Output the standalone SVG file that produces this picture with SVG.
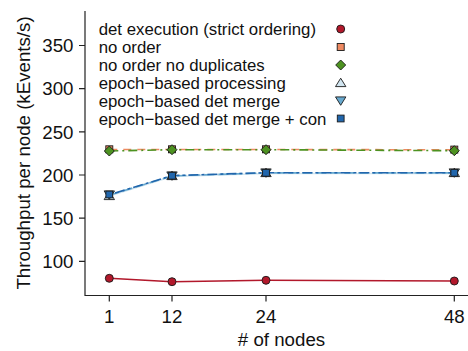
<svg xmlns="http://www.w3.org/2000/svg" xmlns:xlink="http://www.w3.org/1999/xlink" width="468" height="351" viewBox="0 0 468 351">
<style>
text{font-family:"Liberation Sans",Arial,sans-serif;fill:#111}
.ax{font-size:18.7px}
.lg{font-size:16.8px}
.axis{stroke:#222;stroke-width:1.2;fill:none}
.mk{stroke:#1a1a1a;stroke-width:0.9}
.ln{fill:none;stroke-width:1.6}
</style>
<defs>
<circle id="mc" r="4" class="mk" fill="#B2182B"/>
<rect id="ms" x="-3.5" y="-3.5" width="7" height="7" class="mk" fill="#EF8A62"/>
<polygon id="md" points="0,-5 5,0 0,5 -5,0" class="mk" fill="#4D9221"/>
<polygon id="mu" points="0,-4.3 5.2,4.1 -5.2,4.1" class="mk" fill="#D1E5F0"/>
<polygon id="mv" points="0,4.3 5.2,-4.1 -5.2,-4.1" class="mk" fill="#67A9CF"/>
<rect id="mb" x="-3.4" y="-3.4" width="6.8" height="6.8" class="mk" fill="#2166AC"/>
</defs>
<rect width="468" height="351" fill="#fff"/>
<g id="axes">
<path class="axis" d="M85,11V295.5H468"/>
<path class="axis" d="M79,261.3H85M79,218.2H85M79,175H85M79,131.8H85M79,88.7H85M79,45.5H85"/>
<path class="axis" d="M109.3,295.5V301.5M172,295.5V301.5M266,295.5V301.5M454.3,295.5V301.5"/>
<g class="ax" text-anchor="end">
<text x="73.5" y="268">100</text>
<text x="73.5" y="224.9">150</text>
<text x="73.5" y="181.7">200</text>
<text x="73.5" y="138.5">250</text>
<text x="73.5" y="95.4">300</text>
<text x="73.5" y="52.2">350</text>
</g>
<g class="ax" text-anchor="middle">
<text x="109.3" y="322.5">1</text>
<text x="172" y="322.5">12</text>
<text x="266" y="322.5">24</text>
<text x="454.3" y="322.5">48</text>
<text x="281.5" y="346"># of nodes</text>
<text transform="translate(29.5,153) rotate(-90)">Throughput per node (kEvents/s)</text>
</g>
</g>
<g id="series">
<polyline class="ln" stroke="#B2182B" stroke-width="1.8" points="109.3,278.3 172,281.7 266,280.3 454.3,281"/>
<polyline class="ln" stroke="#EF8A62" stroke-dasharray="8 6" points="109.3,149.5 172,149.5 266,149.5 454.3,149.8"/>
<polyline class="ln" stroke="#4D9221" stroke-dasharray="9 4 2 4" points="109.3,151 172,149.7 266,149.7 454.3,150.7"/>
<polyline class="ln" stroke="#D1E5F0" stroke-width="2.4" points="109.3,196 172,176.5 266,173.5 454.3,173.5"/>
<polyline class="ln" stroke="#67A9CF" stroke-dasharray="10 4" points="109.3,195.2 172,175.9 266,172.9 454.3,172.9"/>
<polyline class="ln" stroke="#2166AC" stroke-dasharray="3 3 10 3" points="109.3,194.8 172,175.6 266,172.7 454.3,172.7"/>
<g id="pts-det">
<use xlink:href="#mc" x="109.3" y="278.3"/><use xlink:href="#mc" x="172" y="281.7"/><use xlink:href="#mc" x="266" y="280.3"/><use xlink:href="#mc" x="454.3" y="281"/>
</g>
<g id="pts-noorder">
<use xlink:href="#ms" x="109.3" y="149.3"/><use xlink:href="#ms" x="172" y="149.3"/><use xlink:href="#ms" x="266" y="149.3"/><use xlink:href="#ms" x="454.3" y="149.6"/>
</g>
<g id="pts-nodup">
<use xlink:href="#md" x="109.3" y="151"/><use xlink:href="#md" x="172" y="149.7"/><use xlink:href="#md" x="266" y="149.7"/><use xlink:href="#md" x="454.3" y="150.7"/>
</g>
<g id="pts-epoch">
<use xlink:href="#mu" x="109.3" y="195.5"/><use xlink:href="#mu" x="172" y="175.5"/><use xlink:href="#mu" x="266" y="172.5"/><use xlink:href="#mu" x="454.3" y="172.5"/>
</g>
<g id="pts-merge">
<use xlink:href="#mv" x="109.3" y="195"/><use xlink:href="#mv" x="172" y="176"/><use xlink:href="#mv" x="266" y="173"/><use xlink:href="#mv" x="454.3" y="173"/>
</g>
<g id="pts-con">
<use xlink:href="#mb" x="109.3" y="194.5"/><use xlink:href="#mb" x="172" y="175.7"/><use xlink:href="#mb" x="266" y="172.8"/><use xlink:href="#mb" x="454.3" y="172.8"/>
</g>
</g>
<g id="legend" class="lg">
<text x="98.7" y="35">det execution (strict ordering)</text>
<text x="98.7" y="53">no order</text>
<text x="98.7" y="71">no order no duplicates</text>
<text x="98.7" y="89">epoch−based processing</text>
<text x="98.7" y="107">epoch−based det merge</text>
<text x="98.7" y="125">epoch−based det merge + con</text>
<use xlink:href="#mc" x="340.7" y="29"/>
<use xlink:href="#ms" x="340.7" y="47"/>
<use xlink:href="#md" x="340.7" y="65"/>
<use xlink:href="#mu" x="340.7" y="82.5"/>
<use xlink:href="#mv" x="340.7" y="101"/>
<use xlink:href="#mb" x="340.7" y="118.5"/>
</g>
</svg>
